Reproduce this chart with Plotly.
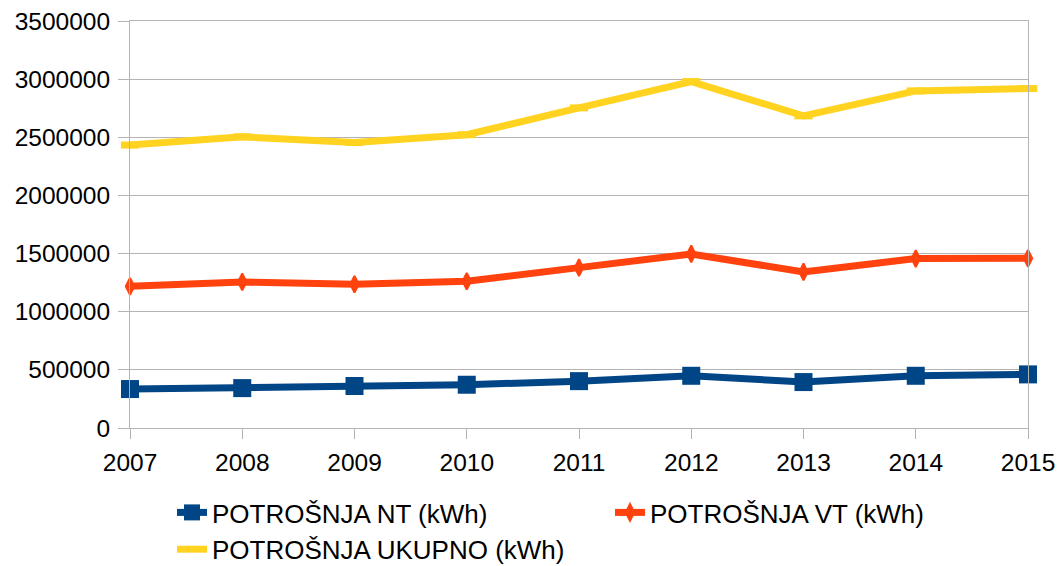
import plotly.graph_objects as go

years = [2007, 2008, 2009, 2010, 2011, 2012, 2013, 2014, 2015]
nt = [335000, 343000, 361000, 372000, 403000, 449000, 395000, 449000, 461000]
vt = [1218000, 1256000, 1236000, 1262000, 1379000, 1497000, 1342000, 1457000, 1459000]
ukupno = [2433000, 2504000, 2455000, 2522000, 2753000, 2979000, 2684000, 2899000, 2919000]
names = ["POTROŠNJA NT (kWh)", "POTROŠNJA VT (kWh)", "POTROŠNJA UKUPNO (kWh)"]
y_ticks = [0, 500000, 1000000, 1500000, 2000000, 2500000, 3000000, 3500000]

BLUE = "#004586"
ORANGE = "#ff420e"
YELLOW = "#ffd320"
GRID = "#b3b3b3"
FONT = "Liberation Sans, Arial, sans-serif"

fig = go.Figure()
fig.add_trace(go.Scatter(
    x=years, y=nt, name=names[0], mode="lines+markers",
    line=dict(color=BLUE, width=7),
    marker=dict(symbol="square", size=18, color=BLUE),
    cliponaxis=False,
))
fig.add_trace(go.Scatter(
    x=years, y=vt, name=names[1], mode="lines+markers",
    line=dict(color=ORANGE, width=7),
    marker=dict(symbol="diamond-tall", size=12, color=ORANGE,
                line=dict(color=ORANGE, width=2)),
    cliponaxis=False,
))
fig.add_trace(go.Scatter(
    x=years, y=ukupno, name=names[2], mode="lines+markers",
    line=dict(color=YELLOW, width=7),
    marker=dict(symbol="line-ew", size=13, color=YELLOW,
                line=dict(color=YELLOW, width=7)),
    cliponaxis=False,
))

fig.update_layout(
    width=1061, height=566,
    margin=dict(l=130, r=33, t=21, b=138),
    paper_bgcolor="white", plot_bgcolor="white",
    font=dict(family=FONT, size=24.5, color="black"),
    showlegend=True,
    legend=dict(
        orientation="h",
        xref="container", yref="container",
        x=172 / 1061, y=1 - 489 / 566,
        xanchor="left", yanchor="top",
        font=dict(family=FONT, size=26, color="black"),
        entrywidth=393, entrywidthmode="pixels",
        tracegroupgap=0,
        bgcolor="rgba(0,0,0,0)",
    ),
    xaxis=dict(
        range=[2007, 2015], tickmode="array", tickvals=years,
        ticktext=[str(y) for y in years],
        showgrid=False, zeroline=False,
        showline=True, linecolor=GRID, linewidth=1, mirror=True,
        ticks="outside", ticklen=10, tickcolor=GRID, tickwidth=1,
        ticklabelstandoff=3, automargin=False, ticklabeloverflow="allow",
    ),
    yaxis=dict(
        range=[0, 3500000], tickmode="array", tickvals=y_ticks,
        ticktext=[str(v) for v in y_ticks],
        showgrid=True, gridcolor=GRID, gridwidth=1, zeroline=False,
        showline=True, linecolor=GRID, linewidth=1, mirror=True,
        ticks="outside", ticklen=11, tickcolor=GRID, tickwidth=1,
        ticklabelstandoff=3, automargin=False, ticklabeloverflow="allow",
    ),
)

fig.write_html("out.html", config={"displayModeBar": False},
               post_script="document.body.style.margin='0';")
